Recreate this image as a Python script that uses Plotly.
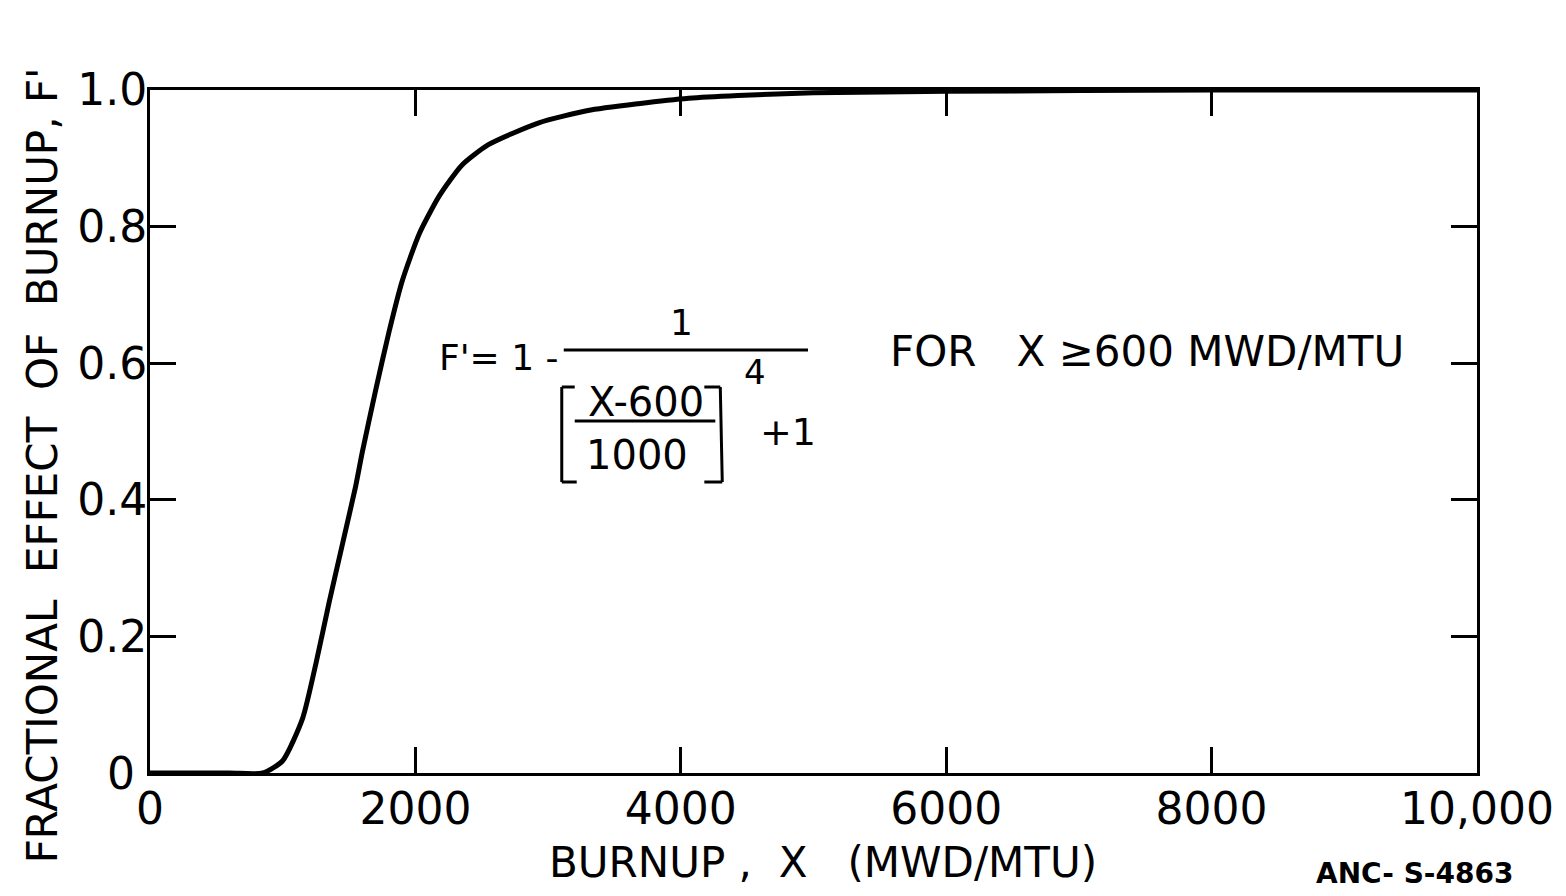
import plotly.graph_objects as go

# ---- data ----
burnup = [0, 600, 850, 1000, 1150, 1250, 1350, 1450, 1550, 1600, 1700, 1800,
          1900, 2030, 2180, 2350, 2550, 2930, 3300, 3680, 4060, 4430, 5000,
          6000, 8000, 10000]
f_prime = [0, 0, 0, 0.018, 0.08, 0.16, 0.25, 0.335, 0.42, 0.47, 0.56, 0.645,
           0.72, 0.79, 0.845, 0.89, 0.92, 0.952, 0.97, 0.98, 0.988, 0.992,
           0.996, 0.998, 1.0, 1.0]

x_tickvals = [0, 2000, 4000, 6000, 8000, 10000]
x_ticktext = ["0", "2000", "4000", "6000", "8000", "10,000"]
y_tickvals = [0.2, 0.4, 0.6, 0.8, 1.0]
y_ticktext = ["0.2", "0.4", "0.6", "0.8", "1.0"]
y_origin_label = "0"

FONT = "DejaVu Sans"
W, H = 1566, 896
ML, MR, MT, MB = 150, 85, 90, 123
PW, PH = W - ML - MR, H - MT - MB


def px(x):
    return (x - ML) / PW


def py(y):
    return (H - MB - y) / PH


fig = go.Figure()
fig.add_trace(go.Scatter(
    x=burnup, y=f_prime, mode="lines",
    line=dict(color="black", width=5, shape="spline", smoothing=0.6),
    showlegend=False, hoverinfo="skip", cliponaxis=False,
))

axis_common = dict(
    showline=True, linecolor="black", linewidth=3, mirror="ticks",
    ticks="inside", ticklen=26, tickwidth=3, tickcolor="black",
    showgrid=False, zeroline=False,
    tickfont=dict(family=FONT, size=44, color="black"),
)
fig.update_xaxes(range=[0, 10000], tickmode="array", tickvals=x_tickvals,
                 ticktext=x_ticktext, ticklabelstandoff=-5, **axis_common)
fig.update_yaxes(range=[0, 1.0], tickmode="array", tickvals=y_tickvals,
                 ticktext=y_ticktext, ticklabelstandoff=-9, **axis_common)

ann = []


def text(s, x, y, size, **kw):
    ann.append(dict(text=s, x=px(x), y=py(y), xref="paper", yref="paper",
                    showarrow=False, xanchor=kw.pop("xanchor", "center"),
                    yanchor=kw.pop("yanchor", "middle"),
                    font=dict(family=FONT, size=size, color="black"), **kw))


# y-axis origin label (sits left of the x-axis "0", as in the reference)
ann.append(dict(text=y_origin_label, x=px(121), y=0, xref="paper", yref="y",
                showarrow=False, xanchor="center", yanchor="middle",
                font=dict(family=FONT, size=44, color="black")))

# axis titles
text("FRACTIONAL  EFFECT  OF  BURNUP, F'", 42, 465, 42, textangle=-90)
text("BURNUP ,  X   (MWD/MTU)", 825, 862, 42)
text("<b>ANC- S-4863</b>", 1418, 873, 28)

# equation
text("F'= 1 -", 500, 357, 36)
text("1", 683, 322, 36)
text("X-600", 647, 402, 40)
text("1000", 638, 455, 40)
text("4", 757, 372, 34)
text("+1", 790, 432, 38)
text("FOR   X ≥600 MWD/MTU", 1150, 352, 42)

shapes = []


def seg(x0, y0, x1, y1, w=3):
    shapes.append(dict(type="line", xref="paper", yref="paper",
                       x0=px(x0), y0=py(y0), x1=px(x1), y1=py(y1),
                       line=dict(color="black", width=w)))


seg(565, 350, 810, 350)          # main fraction bar
seg(576, 421, 717, 421)          # inner fraction bar
# left bracket
seg(563, 387, 576, 387)
seg(563, 387, 563, 482)
seg(563, 482, 578, 482)
# right bracket
seg(706, 387, 722, 387)
seg(722, 387, 724, 482)
seg(706, 482, 724, 482)

fig.update_layout(
    width=W, height=H,
    margin=dict(l=ML, r=MR, t=MT, b=MB),
    paper_bgcolor="white", plot_bgcolor="white",
    annotations=ann, shapes=shapes,
    font=dict(family=FONT, color="black"),
)

fig.write_html("out.html")
